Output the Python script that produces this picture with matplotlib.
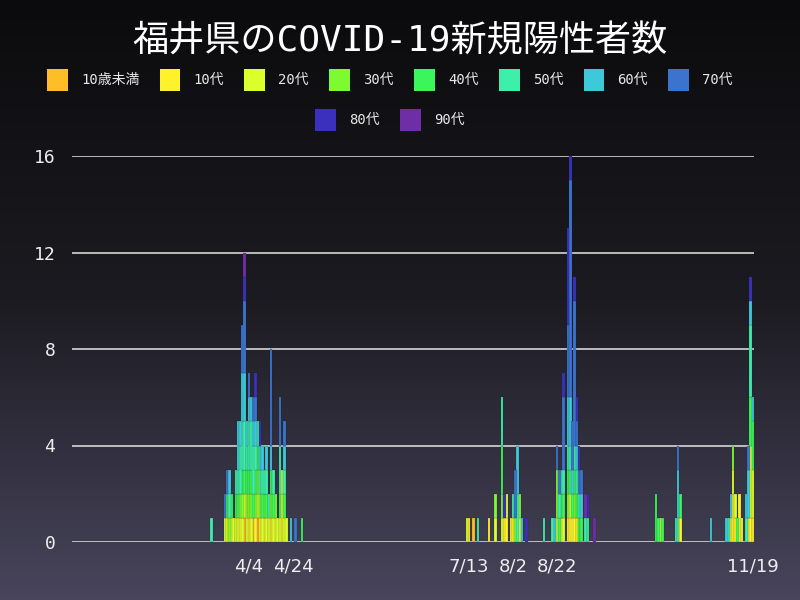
import matplotlib

matplotlib.use("Agg")
import matplotlib.pyplot as plt
import matplotlib.dates as mdates
import numpy as np
import pandas as pd
from matplotlib.colors import LinearSegmentedColormap
from matplotlib.patches import Patch

MONO = ["DejaVu Sans Mono", "Noto Sans CJK JP"]
plt.rcParams["font.family"] = MONO

# days with new cases (first wave / summer wave / autumn wave)
dates = [
    "2020-03-18", "2020-03-24", "2020-03-25", "2020-03-26", "2020-03-27", "2020-03-28",
    "2020-03-29", "2020-03-30", "2020-03-31", "2020-04-01", "2020-04-02", "2020-04-03",
    "2020-04-04", "2020-04-05", "2020-04-06", "2020-04-07", "2020-04-08", "2020-04-09",
    "2020-04-10", "2020-04-11", "2020-04-12", "2020-04-13", "2020-04-14", "2020-04-15",
    "2020-04-16", "2020-04-17", "2020-04-18", "2020-04-19", "2020-04-20", "2020-04-21",
    "2020-04-23", "2020-04-25", "2020-04-28",
    "2020-07-12", "2020-07-13", "2020-07-15", "2020-07-17", "2020-07-22", "2020-07-25",
    "2020-07-28", "2020-07-29", "2020-07-30", "2020-08-01", "2020-08-02", "2020-08-03",
    "2020-08-04", "2020-08-05", "2020-08-06", "2020-08-08", "2020-08-16", "2020-08-20",
    "2020-08-21", "2020-08-22", "2020-08-23", "2020-08-24", "2020-08-25", "2020-08-27",
    "2020-08-28", "2020-08-29", "2020-08-30", "2020-08-31", "2020-09-01", "2020-09-02",
    "2020-09-04", "2020-09-05", "2020-09-08",
    "2020-10-06", "2020-10-07", "2020-10-08", "2020-10-09", "2020-10-15", "2020-10-16",
    "2020-10-17", "2020-10-31", "2020-11-07", "2020-11-08", "2020-11-09", "2020-11-10",
    "2020-11-11", "2020-11-12", "2020-11-13", "2020-11-14", "2020-11-16", "2020-11-17",
    "2020-11-18", "2020-11-19",
]

under10 = [
    0, 0, 0, 0, 0, 0, 0, 0, 0, 0, 1, 0, 0, 0, 1, 0, 1, 0, 0, 0, 0, 0, 0, 0, 0, 0, 0, 0, 0, 0, 0, 0, 0,
    0, 0, 1, 0, 0, 0, 0, 0, 0, 0, 0, 0, 0, 0, 0, 0, 0, 0, 0, 0, 0, 0, 0, 0, 0, 0, 0, 0, 0, 0, 0, 0, 0,
    0, 0, 0, 0, 0, 0, 0, 0, 0, 0, 0, 0, 0, 0, 0, 0, 0, 0, 0, 0,
]
age10 = [
    0, 0, 0, 0, 1, 0, 0, 0, 1, 0, 0, 0, 1, 0, 0, 1, 0, 1, 0, 1, 0, 0, 1, 0, 1, 0, 0, 2, 0, 0, 0, 0, 0,
    0, 1, 0, 0, 1, 0, 0, 1, 1, 1, 1, 0, 0, 0, 0, 0, 0, 0, 0, 0, 0, 1, 0, 1, 1, 1, 1, 0, 0, 0, 0, 0, 0,
    0, 0, 1, 0, 0, 0, 1, 0, 0, 0, 1, 2, 1, 0, 2, 1, 0, 1, 1, 1,
]
age20 = [
    0, 1, 1, 0, 0, 1, 1, 1, 0, 1, 1, 1, 0, 1, 0, 0, 1, 0, 1, 0, 1, 1, 0, 1, 0, 1, 1, 1, 1, 1, 0, 0, 0,
    1, 0, 0, 0, 0, 1, 1, 0, 1, 0, 0, 0, 0, 1, 0, 0, 0, 0, 0, 1, 0, 0, 1, 0, 1, 0, 0, 1, 0, 0, 0, 0, 0,
    0, 0, 0, 0, 0, 0, 0, 0, 0, 0, 0, 1, 1, 0, 0, 0, 0, 0, 3, 2,
]
age30 = [
    0, 0, 0, 1, 0, 0, 0, 0, 1, 1, 0, 1, 1, 1, 0, 1, 1, 1, 0, 1, 0, 0, 1, 0, 1, 0, 0, 0, 0, 0, 0, 0, 0,
    0, 0, 0, 0, 0, 1, 1, 0, 0, 0, 0, 1, 0, 1, 0, 0, 0, 0, 0, 2, 0, 0, 0, 1, 0, 0, 1, 0, 0, 0, 0, 0, 0,
    0, 0, 0, 0, 0, 0, 0, 0, 0, 0, 0, 1, 0, 0, 0, 0, 0, 0, 0, 0,
]
age40 = [
    0, 0, 1, 0, 1, 0, 1, 1, 0, 1, 1, 1, 1, 1, 1, 1, 1, 0, 1, 0, 1, 0, 1, 1, 0, 0, 1, 0, 1, 0, 0, 0, 1,
    0, 0, 0, 0, 0, 0, 2, 0, 0, 0, 0, 0, 0, 0, 0, 0, 0, 0, 0, 0, 1, 1, 1, 1, 1, 1, 1, 1, 1, 1, 0, 0, 0,
    2, 1, 0, 1, 0, 0, 1, 0, 0, 0, 0, 0, 0, 1, 0, 0, 0, 0, 2, 2,
]
age50 = [
    1, 0, 0, 1, 0, 0, 1, 1, 2, 2, 2, 1, 2, 2, 2, 1, 1, 1, 1, 1, 1, 1, 0, 1, 0, 0, 2, 0, 1, 0, 0, 0, 0,
    0, 0, 0, 1, 0, 0, 2, 0, 0, 0, 1, 0, 2, 0, 0, 0, 1, 1, 0, 0, 1, 1, 1, 1, 1, 0, 1, 1, 1, 0, 1, 1, 0,
    0, 0, 0, 0, 1, 1, 0, 0, 0, 1, 0, 0, 0, 0, 0, 0, 1, 0, 3, 0,
]
age60 = [
    0, 0, 0, 1, 0, 0, 0, 2, 1, 2, 2, 1, 1, 1, 1, 1, 0, 1, 1, 0, 1, 0, 1, 0, 0, 0, 0, 0, 1, 0, 1, 0, 0,
    0, 0, 0, 0, 0, 0, 0, 0, 0, 0, 0, 0, 2, 0, 1, 0, 0, 0, 1, 0, 0, 0, 0, 2, 2, 1, 0, 1, 0, 1, 0, 0, 0,
    0, 0, 0, 0, 0, 2, 0, 1, 1, 0, 1, 0, 0, 0, 0, 0, 1, 2, 1, 1,
]
age70 = [
    0, 1, 1, 0, 0, 0, 0, 0, 0, 2, 3, 0, 1, 0, 1, 1, 0, 0, 0, 0, 0, 0, 4, 0, 0, 0, 2, 0, 1, 0, 0, 1, 0,
    0, 0, 0, 0, 0, 0, 0, 0, 0, 0, 0, 2, 0, 0, 0, 0, 0, 0, 0, 1, 1, 0, 3, 3, 9, 2, 6, 1, 1, 1, 0, 0, 0,
    0, 0, 0, 0, 0, 1, 0, 0, 0, 0, 0, 0, 0, 0, 0, 0, 0, 1, 0, 0,
]
age80 = [
    0, 0, 0, 0, 0, 0, 0, 0, 0, 0, 1, 0, 0, 0, 0, 1, 0, 1, 0, 0, 0, 0, 0, 0, 0, 0, 0, 0, 0, 0, 0, 0, 0,
    0, 0, 0, 0, 0, 0, 0, 1, 0, 0, 0, 0, 0, 0, 0, 1, 0, 0, 0, 0, 0, 0, 1, 4, 1, 0, 1, 1, 1, 0, 0, 1, 0,
    0, 0, 0, 0, 0, 0, 0, 0, 0, 0, 0, 0, 0, 0, 0, 0, 0, 0, 1, 0,
]
age90 = [
    0, 0, 0, 0, 0, 0, 0, 0, 0, 0, 1, 0, 0, 0, 0, 0, 0, 0, 0, 0, 0, 0, 0, 0, 0, 0, 0, 0, 0, 0, 0, 0, 0,
    0, 0, 0, 0, 0, 0, 0, 0, 0, 0, 0, 0, 0, 0, 0, 0, 0, 0, 0, 0, 0, 0, 0, 0, 0, 0, 0, 0, 0, 0, 1, 0, 1,
    0, 0, 0, 0, 0, 0, 0, 0, 0, 0, 0, 0, 0, 0, 0, 0, 0, 0, 0, 0,
]

age_labels = ["10歳未満", "10代", "20代", "30代", "40代", "50代", "60代", "70代", "80代", "90代"]
age_colors = ["#FFBE28", "#FFF22A", "#DAFF2C", "#7DFB30", "#3AF65A",
              "#3DEFAA", "#3EC9DA", "#3A74CE", "#3B30BE", "#6F2DA8"]
series = [under10, age10, age20, age30, age40, age50, age60, age70, age80, age90]

first_day = "2020-01-15"
last_day = "2020-11-19"
tick_dates = ["2020-04-04", "2020-04-24", "2020-07-13", "2020-08-02", "2020-08-22", "2020-11-19"]
tick_labels = ["4/4", "4/24", "7/13", "8/2", "8/22", "11/19"]
y_ticks = [0, 4, 8, 12, 16]

fig = plt.figure(figsize=(8, 6), dpi=100)

# dark vertical gradient behind everything
bg = fig.add_axes([0, 0, 1, 1], zorder=-10)
grad = np.linspace(0, 1, 256).reshape(-1, 1)
bg.imshow(grad, aspect="auto", extent=[0, 1, 0, 1], origin="upper",
          cmap=LinearSegmentedColormap.from_list("bg", ["#0b0b0d", "#1c1b21", "#48455c"]))
bg.axis("off")

ax = fig.add_axes([72 / 800, 58 / 600, 682 / 800, 386 / 600])
ax.patch.set_alpha(0)

x = mdates.date2num(pd.to_datetime(dates))
bottom = np.zeros(len(dates))
for vals, color in zip(series, age_colors):
    vals = np.array(vals, dtype=float)
    m = vals > 0
    ax.bar(x[m], vals[m], width=1.15, bottom=bottom[m], color=color,
           edgecolor=(0.1, 0.1, 0.12, 0.35), linewidth=0.35, zorder=3)
    bottom += vals

x0 = mdates.date2num(pd.Timestamp(first_day))
x1 = mdates.date2num(pd.Timestamp(last_day))
ax.set_xlim(x0 - 0.5, x1 + 0.5)
ax.set_ylim(0, 16)

ax.set_yticks(y_ticks)
ax.set_xticks(mdates.date2num(pd.to_datetime(tick_dates)))
ax.set_xticklabels(tick_labels, family="DejaVu Sans")
ax.tick_params(axis="y", length=0, pad=12, labelsize=13, labelcolor="#eeeeee")
ax.tick_params(axis="x", length=0, pad=11, labelsize=13, labelcolor="#eeeeee")

ax.yaxis.grid(True, color="#d6d6d6", linewidth=1.2, zorder=1)
ax.xaxis.grid(False)
ax.set_axisbelow(True)
for s in ax.spines.values():
    s.set_visible(False)

fig.text(0.5, 1 - 41 / 600, "福井県のCOVID-19新規陽性者数", ha="center", va="center",
         fontsize=26, color="white", family=MONO)

handles = [Patch(facecolor=c, edgecolor="none") for c in age_colors]
leg_kw = dict(loc="center", frameon=False, fontsize=10, handlelength=1.5,
              handleheight=2.1, handletextpad=0.95, columnspacing=1.45,
              labelcolor="#e8e8e8", borderpad=0, borderaxespad=0)
fig.legend(handles[:8], age_labels[:8], ncol=8,
           bbox_to_anchor=(390 / 800, 1 - 80 / 600), **leg_kw)
fig.legend(handles[8:], age_labels[8:], ncol=2,
           bbox_to_anchor=(390 / 800, 1 - 120 / 600), **leg_kw)

fig.savefig("out.png", dpi=100)
